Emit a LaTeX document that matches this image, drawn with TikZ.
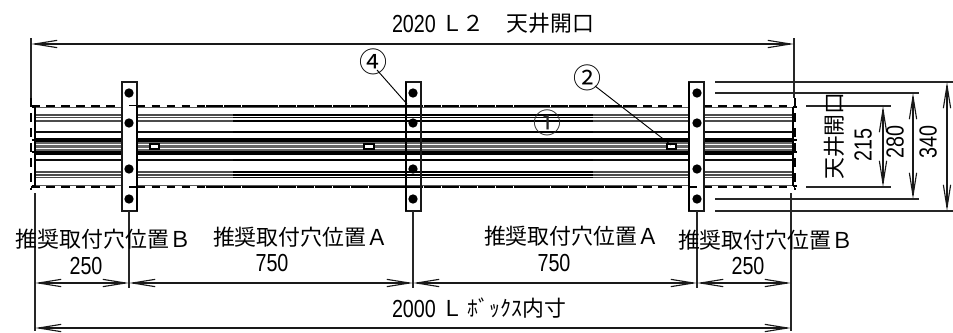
\documentclass[tikz,border=0pt]{standalone}
\usepackage{fontspec}
\usetikzlibrary{arrows.meta}
\setmainfont{Noto Sans CJK JP}
\newfontfamily\cjk{Noto Sans CJK JP}
\newfontfamily\num[FakeStretch=0.8]{Liberation Sans}
\begin{document}
\begin{tikzpicture}[x=0.75pt,y=-0.75pt,
  every node/.style={inner sep=0pt,outer sep=0pt},
  lbl/.style={font=\cjk\fontsize{16.4pt}{18pt}\selectfont,text=black,anchor=west},
  numl/.style={font=\num\fontsize{18.5pt}{20pt}\selectfont,text=black},
  dim/.style={draw=black!90,line width=0.85pt,{Straight Barb[length=17pt,width=5.5pt]}-{Straight Barb[length=17pt,width=5.5pt]}},
  ext/.style={draw=black!85,line width=0.85pt},
  plate/.style={draw=black!90,line width=1pt},
  bolt/.style={circle,fill=black,minimum size=7pt},
  hole/.style={draw=black,line width=0.9pt,fill=white},
  cut/.style={draw=black,line width=1.5pt,dash pattern=on 6.5pt off 4.8pt},
  leader/.style={draw=black,line width=0.7pt},
  callout/.style={font=\cjk\fontsize{21pt}{22pt}\selectfont,text=black}
]
\useasboundingbox (0,0) rectangle (953,332);
% rail, outer (grey) zones and dark centre
\foreach \xa/\xb/\ca/\cb in {35/793/black!70/black!95,233/593/black/black}{
  \foreach \yy/\ww in {115/1.1,117.5/0.6,121/0.8,172/0.8,175/0.8,177.5/0.9}{
    \draw[\ca,line width=\ww pt] (\xa,\yy) -- (\xb,\yy);
  }
  \foreach \yy/\ww in {132/0.85,160/0.85}{
    \draw[\cb,line width=\ww pt] (\xa,\yy) -- (\xb,\yy);
  }
  \fill[black!60] (\xa,142) rectangle (\xb,151);
  \draw[white,line width=0.45pt] (\xa,144.7) -- (\xb,144.7) (\xa,148) -- (\xb,148);
  \fill[black] (\xa,137.5) rectangle (\xb,142.3);
  \fill[black] (\xa,150.5) rectangle (\xb,155);
}
\draw[black!65,line width=0.5pt] (35,107.5) -- (793,107.5) (35,185.5) -- (793,185.5);
\draw[black,line width=1.6pt] (35,107) -- (35,186) (793,107) -- (793,186);
% cut outline
\draw[cut] (31,105.5) -- (206,105.5) (628,105.5) -- (795,105.5);
\draw[cut] (31,187) -- (206,187) (628,187) -- (795,187);
\draw[black,line width=1.5pt,dash pattern=on 13pt off 0.6pt] (206,105.5) -- (628,105.5) (206,187) -- (628,187);
\draw[cut] (31,98) -- (31,190);
\draw[cut] (795,98) -- (795,190);
\foreach \yy in {107,140,152,186}{
  \draw[black,line width=1pt] (31.5,\yy) -- (35,\yy) (793,\yy) -- (796.5,\yy);
}
% plates
\draw[plate,fill=white] (122,82) rectangle (137,211);
\draw[plate,fill=white] (689,82) rectangle (704,211);
\draw[plate] (406,82) rectangle (421,211);
\draw[black,line width=1.5pt] (406,82) -- (406,211);
\draw[black,line width=1.5pt] (137,106) -- (137,211) (689,82) -- (689,211);
\draw[black,line width=1.2pt] (129,105.5) -- (137,105.5) (129,187) -- (137,187) (689,187) -- (697,187);
\foreach \xx/\nn in {129/a,413/b,697/c}{
  \foreach \yy/\mm in {93/1,123/2,169/3,199/4}{
    \node[bolt] (bolt\nn\mm) at (\xx,\yy) {};
  }
}
% small holes
\draw[hole] (150,144) rectangle (159,149);
\draw[hole] (364,144) rectangle (374,149);
\draw[hole] (667,144) rectangle (676,149);
% extension lines
\coordinate (t1) at (31,38);   \coordinate (t1e) at (31,98);
\coordinate (t2) at (794,38);  \coordinate (t2e) at (794,98);
\coordinate (b1s) at (35,193);  \coordinate (b1e) at (35,331);
\coordinate (b2s) at (129,211); \coordinate (b2e) at (129,288);
\coordinate (b3s) at (413,211); \coordinate (b3e) at (413,288);
\coordinate (b4s) at (697,211); \coordinate (b4e) at (697,288);
\coordinate (b5s) at (791,193); \coordinate (b5e) at (791,331);
\draw[ext] (t1) -- (t1e);
\draw[ext] (t2) -- (t2e);
\draw[ext] (b1s) -- (b1e);
\draw[ext] (b2s) -- (b2e);
\draw[ext] (b3s) -- (b3e);
\draw[ext] (b4s) -- (b4e);
\draw[ext] (b5s) -- (b5e);
\coordinate (r1a) at (715,82);  \coordinate (r1b) at (953,82);
\coordinate (r2a) at (715,211); \coordinate (r2b) at (953,211);
\coordinate (r3a) at (715,93);  \coordinate (r3b) at (919,93);
\coordinate (r4a) at (715,199); \coordinate (r4b) at (919,199);
\coordinate (r5a) at (806,106); \coordinate (r5b) at (891,106);
\coordinate (r6a) at (806,187); \coordinate (r6b) at (891,187);
\draw[ext] (r1a) -- (r1b);
\draw[ext] (r2a) -- (r2b);
\draw[ext] (r3a) -- (r3b);
\draw[ext] (r4a) -- (r4b);
\draw[ext] (r5a) -- (r5b);
\draw[ext] (r6a) -- (r6b);
% dimensions
\coordinate (dT1) at (31,44);   \coordinate (dT2) at (794,44);
\coordinate (dA1) at (35,283);  \coordinate (dA2) at (129,283);
\coordinate (dA3) at (413,283); \coordinate (dA4) at (697,283);
\coordinate (dA5) at (791,283);
\coordinate (dB1) at (35,328);  \coordinate (dB2) at (791,328);
\coordinate (v1a) at (947,82);  \coordinate (v1b) at (947,211);
\coordinate (v2a) at (913,93);  \coordinate (v2b) at (913,199);
\coordinate (v3a) at (883,106); \coordinate (v3b) at (883,187);
\draw[dim] (dT1) -- (dT2);
\draw[dim] (dA1) -- (dA2);
\draw[dim] (dA2) -- (dA3);
\draw[dim] (dA3) -- (dA4);
\draw[dim] (dA4) -- (dA5);
\draw[dim] (dB1) -- (dB2);
\draw[dim] (v1a) -- (v1b);
\draw[dim] (v2a) -- (v2b);
\draw[dim] (v3a) -- (v3b);
% callouts
\node[callout] (c4) at (373,62) {④};
\node[callout] (c2) at (587,78) {②};
\node[callout,text=black!85] (c1) at (547,123) {①};
\coordinate (c4e) at (407,104);
\coordinate (c2e) at (671,145);
\draw[leader] (c4) ++(4,8) -- (c4e);
\draw[leader] (c2) ++(8,8) -- (c2e);
% texts
\node[anchor=west,numl] (tTop) at (392,24) {2020};
\node[lbl] (tTopB) at (441,23) {Ｌ２　天井開口};
\node[lbl] (pB1) at (16,239) {推奨取付穴位置Ｂ};
\node[lbl] (pA1) at (213,237) {推奨取付穴位置Ａ};
\node[lbl] (pA2) at (484,236) {推奨取付穴位置Ａ};
\node[lbl] (pB2) at (678,240) {推奨取付穴位置Ｂ};
\node[numl] (n250a) at (86,266) {250};
\node[numl] (n750a) at (272,263) {750};
\node[numl] (n750b) at (554,263) {750};
\node[numl] (n250b) at (748,266) {250};
\node[anchor=west,numl] (n2000) at (392,309) {2000};
\node[lbl] (tBox) at (441,308) {Ｌ ﾎﾞｯｸｽ内寸};
\node[lbl,anchor=center,rotate=90] (tOpen) at (834,136) {天井開口};
\node[numl,rotate=90] (n215) at (863,145) {215};
\node[numl,rotate=90] (n280) at (895,142) {280};
\node[numl,rotate=90] (n340) at (928,142) {340};
\end{tikzpicture}
\end{document}
